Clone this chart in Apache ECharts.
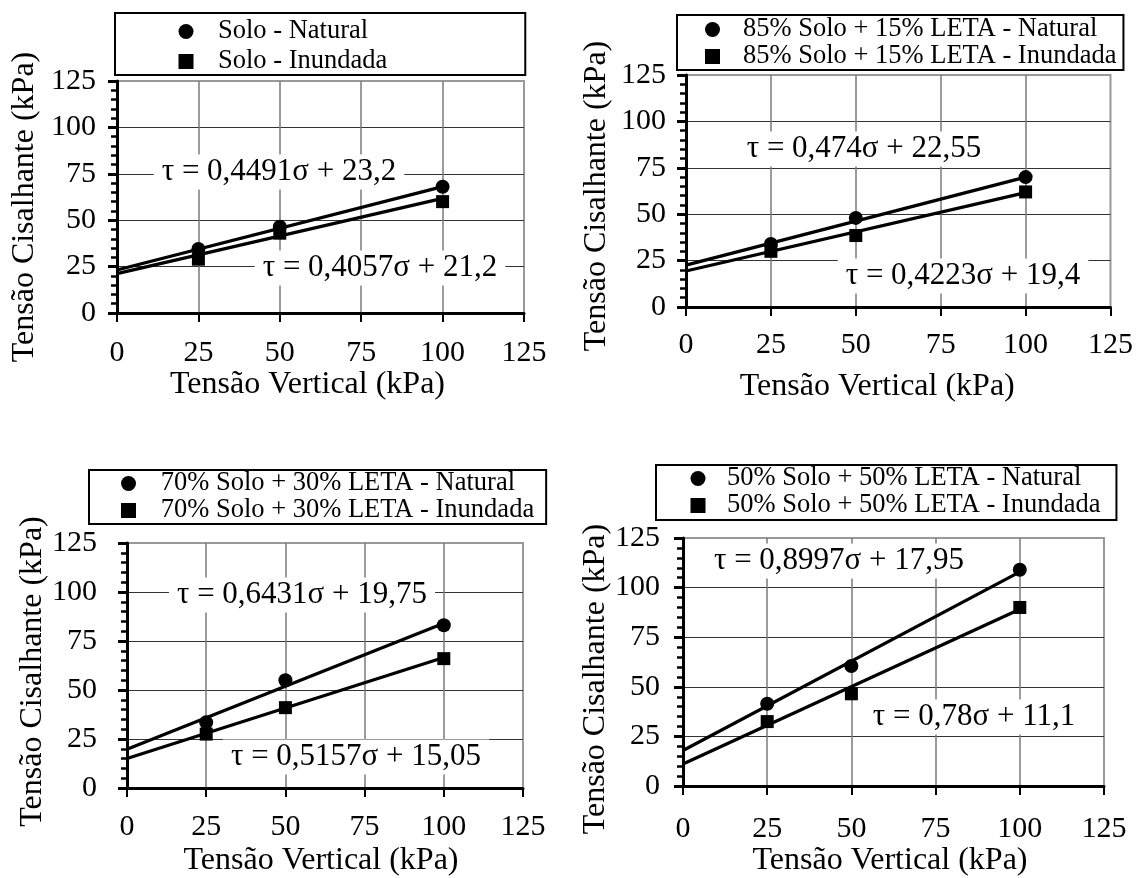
<!DOCTYPE html>
<html><head><meta charset="utf-8">
<script src="https://cdn.jsdelivr.net/npm/echarts@6/dist/echarts.min.js"></script>
<style>html,body{margin:0;padding:0;background:#fff}#c{width:1136px;height:878px}</style>
</head><body><div id="c"></div>
<script>
// ---------- data ----------
const sigma = [25, 50, 100];            // Tensão Vertical (kPa)
const trendX = [0, 100];
const xTicks = [0, 25, 50, 75, 100, 125];
const yTicks = [0, 25, 50, 75, 100, 125];

const names1 = ['Solo - Natural', 'Solo - Inundada'];
const names2 = ['85% Solo + 15% LETA - Natural', '85% Solo + 15% LETA - Inundada'];
const names3 = ['70% Solo + 30% LETA - Natural', '70% Solo + 30% LETA - Inundada'];
const names4 = ['50% Solo + 50% LETA - Natural', '50% Solo + 50% LETA - Inundada'];

const natural1 = [34.5, 46.5, 68];
const inundada1 = [29, 43, 60];
const natural2 = [34, 48, 70];
const inundada2 = [30, 38.5, 62];
const natural3 = [33.5, 55, 83];
const inundada3 = [27.5, 41, 66];
const natural4 = [41.5, 60.5, 109];
const inundada4 = [32.5, 46.5, 90];

// trend line values at sigma = 0 and 100 (from the fitted equations)
const trendNat1 = [23.2, 68.11];
const trendInu1 = [21.2, 61.77];
const trendNat2 = [22.55, 69.95];
const trendInu2 = [19.4, 61.63];
const trendNat3 = [19.75, 84.06];
const trendInu3 = [15.05, 66.62];
const trendNat4 = [17.95, 107.92];
const trendInu4 = [11.1, 89.1];

const eqNat = ['τ = 0,4491σ + 23,2', 'τ = 0,474σ + 22,55', 'τ = 0,6431σ + 19,75', 'τ = 0,8997σ + 17,95'];
const eqInu = ['τ = 0,4057σ + 21,2', 'τ = 0,4223σ + 19,4', 'τ = 0,5157σ + 15,05', 'τ = 0,78σ + 11,1'];

const xName = 'Tensão Vertical (kPa)';
const yName = 'Tensão Cisalhante (kPa)';

// ---------- layout ----------
const FONT = 'Liberation Serif';
const panels = [
  {grid: {left: 117, top: 81, width: 407, height: 232},
   xLM: 25, xNG: 56, xNP: 26, yLM: 21, yNG: 76, yNP: 20,
   leg: {left: 115, top: 13, itemGap: 3, padding: [5, 138, 0, 63.5]}, tp: 19.5,
   eqN: [279, 172], eqI: [380, 268]},
  {grid: {left: 686, top: 75, width: 426, height: 232},
   xLM: 23, xNG: 64, xNP: 42, yLM: 20, yNG: 73, yNP: 10,
   leg: {left: 677, top: 15, itemGap: 0, padding: [1, 7, 0, 28]}, tp: 18,
   eqN: [864, 149], eqI: [963, 276]},
  {grid: {left: 127, top: 543, width: 396, height: 246},
   xLM: 24, xNG: 57, xNP: 8, yLM: 30, yNG: 75, yNP: 12,
   leg: {left: 89, top: 470, itemGap: 0, padding: [0, 12, 0, 32]}, tp: 19.7,
   eqN: [302, 595], eqI: [356, 757]},
  {grid: {left: 683, top: 538, width: 421, height: 254},
   xLM: 28, xNG: 57, xNP: 7, yLM: 23, yNG: 70, yNP: 34,
   leg: {left: 656, top: 465, itemGap: 0, padding: [0, 16, 1, 34.5]}, tp: 16.5,
   eqN: [839, 561], eqI: [974, 717]}
];

const panelData = [
  {names: names1, nat: natural1, inu: inundada1, tn: trendNat1, ti: trendInu1},
  {names: names2, nat: natural2, inu: inundada2, tn: trendNat2, ti: trendInu2},
  {names: names3, nat: natural3, inu: inundada3, tn: trendNat3, ti: trendInu3},
  {names: names4, nat: natural4, inu: inundada4, tn: trendNat4, ti: trendInu4}
];

const pairs = (xs, ys) => xs.map((x, i) => [x, ys[i]]);

const grid = [], xAxis = [], yAxis = [], legend = [], series = [], graphic = [];

panels.forEach((p, i) => {
  const d = panelData[i];
  grid.push(Object.assign({show: true, borderColor: '#999', borderWidth: 2, containLabel: false}, p.grid));
  xAxis.push({
    type: 'value', gridIndex: i, min: xTicks[0], max: xTicks[xTicks.length - 1], interval: 25,
    name: xName, nameLocation: 'middle', nameGap: p.xNG,
    nameTextStyle: {fontFamily: FONT, fontSize: 32, color: '#000', padding: [0, p.xNP, 0, 0]},
    axisLine: {show: true, onZero: false, lineStyle: {color: '#000', width: 3}},
    axisTick: {show: true, inside: false, length: 9, lineStyle: {color: '#000', width: 2}},
    axisLabel: {fontFamily: FONT, fontSize: 30, color: '#000', margin: p.xLM},
    splitLine: {show: true, showMinLine: false, showMaxLine: false, lineStyle: {color: '#7a7a7a', width: 1.5}},
    z: 1
  });
  yAxis.push({
    type: 'value', gridIndex: i, min: yTicks[0], max: yTicks[yTicks.length - 1], interval: 25,
    name: yName, nameLocation: 'middle', nameGap: p.yNG,
    nameTextStyle: {fontFamily: FONT, fontSize: 32, color: '#000', padding: [0, p.yNP, 0, 0]},
    axisLine: {show: true, onZero: false, lineStyle: {color: '#000', width: 3}},
    axisTick: {show: true, inside: false, length: 9, lineStyle: {color: '#000', width: 3}},
    minorTick: {show: true, splitNumber: 5, length: 6, lineStyle: {color: '#000', width: 2.5}},
    axisLabel: {fontFamily: FONT, fontSize: 30, color: '#000', margin: p.yLM},
    splitLine: {show: true, showMinLine: false, showMaxLine: false, lineStyle: {color: '#333', width: 1.2}},
    z: 1
  });
  legend.push(Object.assign({
    orient: 'vertical', data: d.names, itemWidth: 15, itemHeight: 15,
    borderColor: '#000', borderWidth: 2, backgroundColor: '#fff',
    textStyle: {fontFamily: FONT, fontSize: 26.5, color: '#000', padding: [0, 0, 0, p.tp]},
    selectedMode: false
  }, p.leg));
  series.push({
    name: d.names[0], type: 'scatter', xAxisIndex: i, yAxisIndex: i,
    symbol: 'circle', symbolSize: 14, itemStyle: {color: '#000', opacity: 1},
    data: pairs(sigma, d.nat), z: 3
  });
  series.push({
    name: d.names[1], type: 'scatter', xAxisIndex: i, yAxisIndex: i,
    symbol: 'rect', symbolSize: 13, itemStyle: {color: '#000', opacity: 1},
    data: pairs(sigma, d.inu), z: 3
  });
  series.push({
    name: 'trend-nat-' + i, type: 'line', xAxisIndex: i, yAxisIndex: i,
    showSymbol: false, symbol: 'none', lineStyle: {color: '#000', width: 3.2},
    data: pairs(trendX, d.tn), z: 4
  });
  series.push({
    name: 'trend-inu-' + i, type: 'line', xAxisIndex: i, yAxisIndex: i,
    showSymbol: false, symbol: 'none', lineStyle: {color: '#000', width: 3.2},
    data: pairs(trendX, d.ti), z: 4
  });
  [[eqNat[i], p.eqN], [eqInu[i], p.eqI]].forEach(([t, pos]) => {
    graphic.push({
      type: 'text', x: pos[0], y: pos[1], z: 5,
      style: {text: t, fontFamily: FONT, fontSize: 31, fill: '#000',
              align: 'center', verticalAlign: 'middle',
              backgroundColor: '#fff', padding: [2, 8]}
    });
  });
});

const chart = echarts.init(document.getElementById('c'), null, {renderer: 'canvas'});
chart.setOption({
  animation: false,
  backgroundColor: '#fff',
  grid, xAxis, yAxis, legend, series, graphic
});
</script></body></html>
